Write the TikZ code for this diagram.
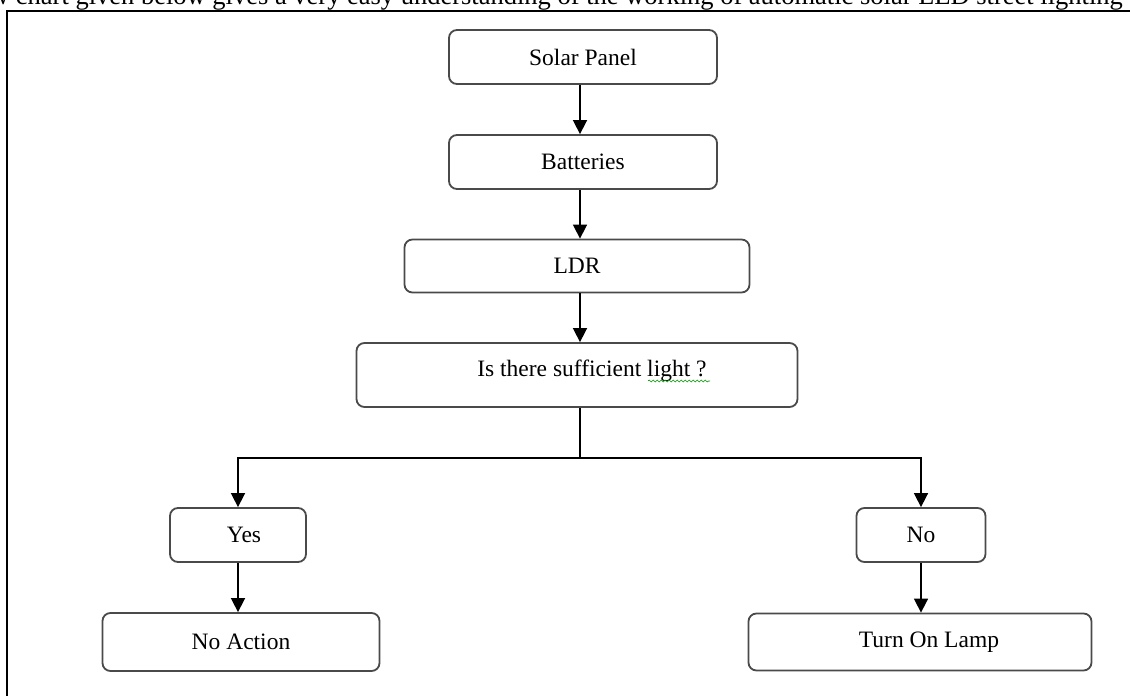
\documentclass[tikz,border=0pt]{standalone}
\usepackage{fontspec}
\setmainfont{Liberation Serif}
\usetikzlibrary{arrows.meta,decorations.pathmorphing}
\definecolor{boxgray}{HTML}{4A4A4A}

\begin{document}
\begin{tikzpicture}[x=1pt,y=-1pt,
    box/.style={draw=boxgray,line width=1.8pt,rounded corners=8pt,fill=white,
      inner sep=0pt,font=\fontsize{23.5}{28}\selectfont},
    flow/.style={line width=1.6pt,-{Triangle[length=14pt,width=14pt]}}]

    \useasboundingbox (0,0) rectangle (1130,696);
    \clip (0,0) rectangle (1130,696);

    % Cut-off line of text above the frame
    \node[anchor=base west,inner sep=0pt,font=\fontsize{26.5}{30}\selectfont] (caption) at (-10,5)
        {w chart given below gives a very easy understanding of the working of automatic solar LED street lighting};

    % Frame
    \draw[line width=2.6pt] (7,1200) -- (7,11) -- (1200,11);

    % Boxes
    \node[box,minimum width=268,minimum height=54] (solar) at (583,57) {Solar Panel};
    \node[box,minimum width=268,minimum height=54] (batt) at (583,162) {Batteries};
    \node[box,minimum width=345,minimum height=53] (ldr) at (577,266) {LDR};
    \node[box,minimum width=441,minimum height=64,text depth=14pt] (light) at (577,375)
        {\hspace*{30pt}Is there sufficient light ?};
    \node[box,minimum width=136,minimum height=54] (yes) at (238,535) {\hspace*{12pt}Yes};
    \node[box,minimum width=129,minimum height=54] (no) at (921,535) {No};
    \node[box,minimum width=277,minimum height=58] (noact) at (241,642) {No Action};
    \node[box,minimum width=343,minimum height=57] (lamp) at (920,642) {\hspace*{18pt}Turn On Lamp};

    % Spell check mark
    \draw[green!60!black,line width=0.6pt,decorate,decoration={snake,amplitude=1pt,segment length=4pt}]
        (648,381) -- (710,381);

    % Connectors
    \coordinate (split) at (580,458);
    \draw[flow] (solar.south -| split) -- (batt.north -| split);
    \draw[flow] (batt.south -| split) -- (ldr.north -| split);
    \draw[flow] (ldr.south -| split) -- (light.north -| split);
    \draw[line width=1.6pt] (light.south -| split) -- (split);
    \draw[flow] (split) -| (yes.north);
    \draw[flow] (split) -| (no.north);
    \draw[flow] (yes.south) -- (yes.south |- noact.north);
    \draw[flow] (no.south) -- (no.south |- lamp.north);

\end{tikzpicture}
\end{document}
